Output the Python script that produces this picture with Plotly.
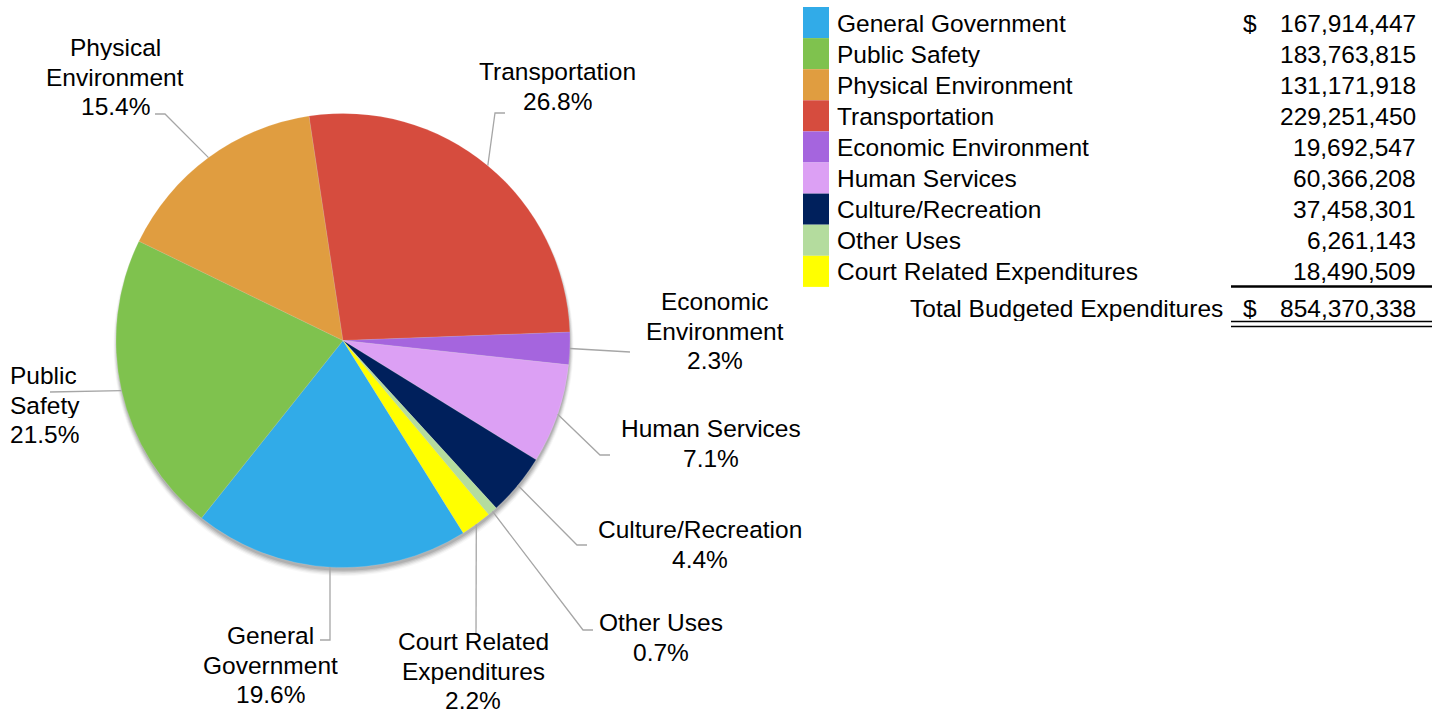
import math
import plotly.graph_objects as go

# ---- data ----
categories = [
    "General Government", "Public Safety", "Physical Environment",
    "Transportation", "Economic Environment", "Human Services",
    "Culture/Recreation", "Other Uses", "Court Related Expenditures",
]
amounts = [167914447, 183763815, 131171918, 229251450, 19692547,
           60366208, 37458301, 6261143, 18490509]
shares = [19.6, 21.5, 15.4, 26.8, 2.3, 7.1, 4.4, 0.7, 2.2]  # percent of total
colors = ["#31ABE8", "#7FC24E", "#E09D40", "#D64C3E", "#A565DE",
          "#DCA0F4", "#00205C", "#B4DC9E", "#FFFF00"]
total_label = "Total Budgeted Expenditures"

# wrapped category text used beside the pie
pie_label_lines = {
    "General Government": ["General", "Government"],
    "Public Safety": ["Public", "Safety"],
    "Physical Environment": ["Physical", "Environment"],
    "Transportation": ["Transportation"],
    "Economic Environment": ["Economic", "Environment"],
    "Human Services": ["Human Services"],
    "Culture/Recreation": ["Culture/Recreation"],
    "Other Uses": ["Other Uses"],
    "Court Related Expenditures": ["Court Related", "Expenditures"],
}

# ---- layout (pixel space) ----
W, H = 1440, 713
CX, CY, R = 343, 340.5, 227
ROTATION = 148
FONT = "Liberation Sans, Arial, sans-serif"
FS = 24.5
PITCH = 29.5
BOX_H = 26
LINE_COLOR = "#A6A6A6"

# label text position (x, first-line y, anchor) and leader-line bend points
label_place = {
    "General Government": (270, 635, "center", [(330, 640), (320, 640)]),
    "Public Safety": (8, 375, "left", [(50, 392)]),
    "Physical Environment": (115, 47, "center", [(165, 114), (155, 114)]),
    "Transportation": (557, 71, "center", [(495, 113), (505, 113)]),
    "Economic Environment": (715, 301, "center", [(630, 352)]),
    "Human Services": (711, 428, "center", [(600, 455), (610, 455)]),
    "Culture/Recreation": (700, 529, "center", [(577, 545), (587, 545)]),
    "Other Uses": (661, 622, "center", [(583, 630), (593, 630)]),
    "Court Related Expenditures": (473, 641, "center", [(476, 635)]),
}


def domain_for(cx, cy, r):
    return dict(x=[(cx - r) / W, (cx + r) / W],
                y=[1 - (cy + r) / H, 1 - (cy - r) / H])


def text_note(x, y, t, anchor):
    return dict(x=x, y=y, xref="x", yref="y", text=t, showarrow=False,
                xanchor=anchor, yanchor="middle", height=BOX_H, valign="middle",
                font=dict(family=FONT, size=FS, color="#000000"))


fig = go.Figure()

# soft drop shadow under the pie
for k, a in [(5, 0.03), (4, 0.05), (3, 0.07), (2, 0.09), (1, 0.10)]:
    fig.add_trace(go.Pie(
        values=[1], labels=["shadow"], sort=False, textinfo="none",
        hoverinfo="skip", showlegend=False,
        marker=dict(colors=[f"rgba(0,0,0,{a})"], line=dict(width=0)),
        domain=domain_for(CX + 0.5, CY + 3 + k * 0.5, R - 1 + k * 0.8),
    ))

fig.add_trace(go.Pie(
    labels=categories, values=shares, sort=False, direction="clockwise",
    rotation=ROTATION, textinfo="none", showlegend=False,
    marker=dict(colors=colors, line=dict(color="rgba(255,255,255,0.25)", width=0.5)),
    domain=domain_for(CX, CY, R),
))

shapes = []
annotations = []
total_share = sum(shares)
cum = 0.0
for cat, s in zip(categories, shares):
    mid = (cum + s / 2) / total_share * 360 + ROTATION
    cum += s
    ang = math.radians(mid)
    ax, ay = CX + R * math.sin(ang), CY - R * math.cos(ang)
    x, y0, anchor, bends = label_place[cat]
    pts = [(ax, ay)] + bends
    path = "M " + " L ".join(f"{px:.1f},{py:.1f}" for px, py in pts)
    shapes.append(dict(type="path", path=path, xref="x", yref="y",
                       line=dict(color=LINE_COLOR, width=1.3)))
    lines = pie_label_lines[cat] + [f"{s:.1f}%"]
    for i, t in enumerate(lines):
        annotations.append(text_note(x, y0 + i * PITCH, t, anchor))

# ---- amounts table on the right ----
ROW0, ROWH = 7, 31.1
for i, (cat, amt, col) in enumerate(zip(categories, amounts, colors)):
    top = ROW0 + i * ROWH
    yc = top + ROWH / 2
    shapes.append(dict(type="rect", xref="x", yref="y", x0=803, x1=829,
                       y0=top, y1=top + ROWH, fillcolor=col, line=dict(width=0)))
    annotations.append(text_note(835, yc, cat, "left"))
    annotations.append(text_note(1418, yc, f"{amt:,}", "right"))
    if i == 0:
        annotations.append(text_note(1250, yc, "$", "center"))

TOTAL_Y = 308
annotations += [
    text_note(1225, TOTAL_Y, total_label, "right"),
    text_note(1250, TOTAL_Y, "$", "center"),
    text_note(1418, TOTAL_Y, f"{sum(amounts):,}", "right"),
]
shapes += [
    dict(type="line", xref="x", yref="y", x0=1231, x1=1432, y0=286.5, y1=286.5,
         line=dict(color="#000000", width=2.5)),
    dict(type="line", xref="x", yref="y", x0=1231, x1=1432, y0=321.5, y1=321.5,
         line=dict(color="#000000", width=1.6)),
    dict(type="line", xref="x", yref="y", x0=1231, x1=1432, y0=326.5, y1=326.5,
         line=dict(color="#000000", width=1.6)),
]

fig.update_layout(
    width=W, height=H, margin=dict(l=0, r=0, t=0, b=0),
    paper_bgcolor="#FFFFFF", plot_bgcolor="rgba(0,0,0,0)",
    xaxis=dict(range=[0, W], visible=False, fixedrange=True),
    yaxis=dict(range=[H, 0], visible=False, fixedrange=True),
    shapes=shapes, annotations=annotations, showlegend=False,
)

fig.write_html("out.html")
